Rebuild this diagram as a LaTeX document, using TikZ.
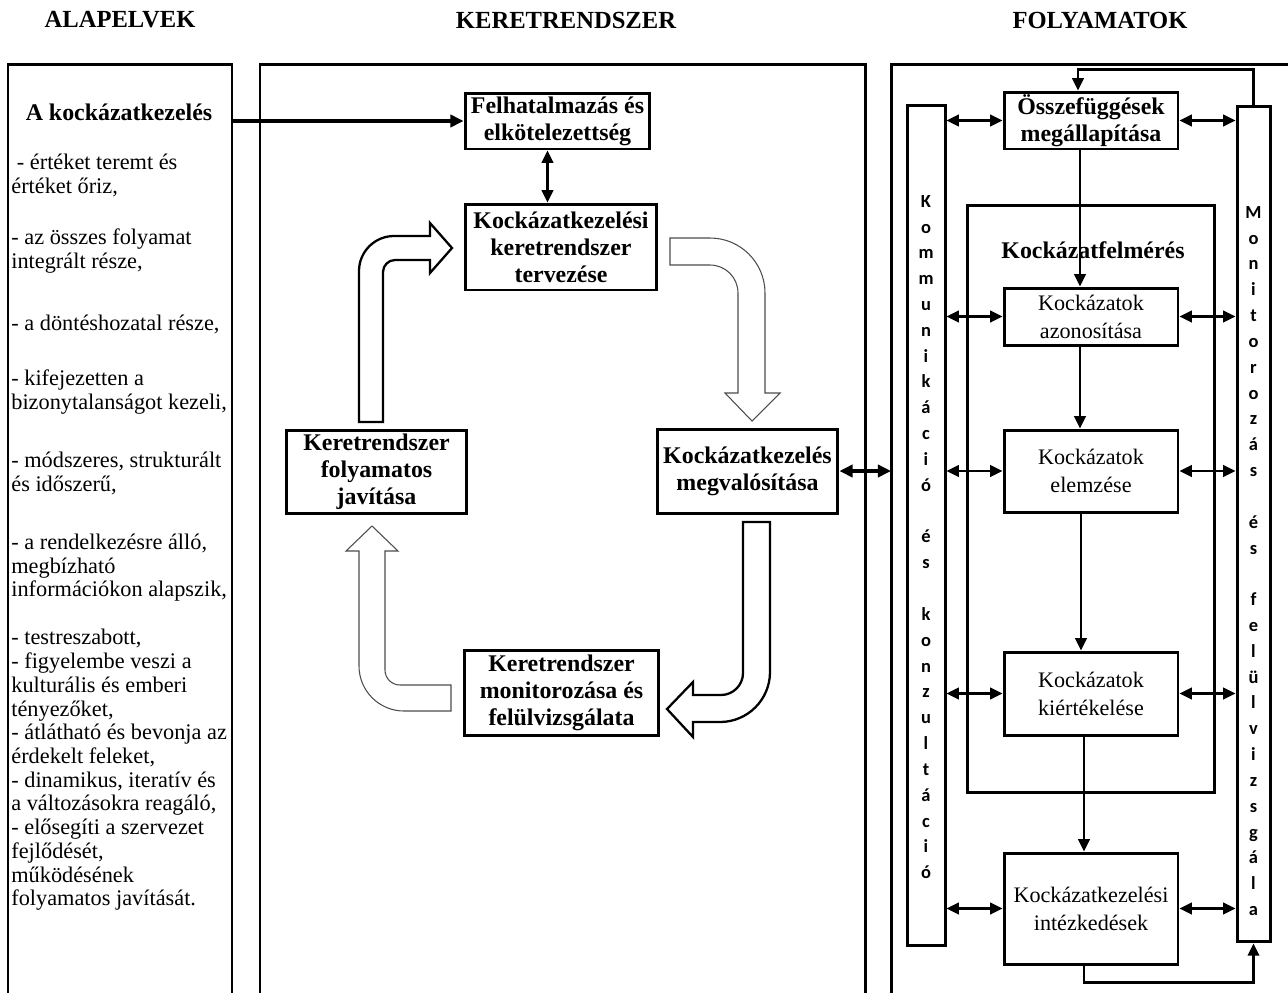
\documentclass[tikz,border=0pt]{standalone}
\usepackage{fontspec}
\setmainfont{Liberation Serif}
\newfontfamily\barfont{Carlito}
\usepackage{tikz}
\usetikzlibrary{arrows.meta,positioning,calc}
\newcommand{\hdfont}{\fontsize{14}{16}\selectfont\bfseries}
\newcommand{\boxfont}{\fontsize{13.6}{15.4}\selectfont\bfseries}
\newcommand{\procfont}{\fontsize{12.6}{16}\selectfont}
\newcommand{\elvfont}{\fontsize{12.7}{13.5}\selectfont}
\newcommand{\sidefont}{\barfont\fontsize{10.5}{14.7}\selectfont\bfseries}

\begin{document}
\begin{tikzpicture}[x=0.02cm, y=-0.02cm,
        frame/.style={line width=1.7pt},
        keret/.style={rectangle, draw, line width=1.7pt, align=center, inner sep=0pt, font=\boxfont},
        proc/.style={rectangle, draw, line width=1.7pt, align=center, inner sep=0pt, font=\procfont, minimum width=3.48cm},
        bar/.style={rectangle, draw, line width=1.7pt, inner sep=0pt},
        arr/.style={-{Triangle[length=7pt,width=6.5pt]}, line width=1.4pt},
        dbl/.style={{Triangle[length=7pt,width=6.5pt]}-{Triangle[length=7pt,width=6.5pt]}, line width=1.4pt},
        thickarr/.style={-{Triangle[length=7.5pt,width=7pt]}, line width=1.8pt},
        dblthick/.style={{Triangle[length=7.5pt,width=7pt]}-{Triangle[length=7.5pt,width=7pt]}, line width=1.8pt},
        bigarrow/.style={draw, line width=1.3pt, fill=white},
        thinarrow/.style={draw=black!70, line width=0.6pt, fill=white}
    ]
        \useasboundingbox (0,0) rectangle (1288,992);

        % headers
        \node[font=\hdfont] (h1) at (120,20) {ALAPELVEK};
        \node[font=\hdfont] (h2) at (566,20) {KERETRENDSZER};
        \node[font=\hdfont] (h3) at (1100,20) {FOLYAMATOK};

        % column frames
        \draw[frame] (8,1000) -- (8,64) -- (232,64) -- (232,1000);
        \draw[frame] (260,1000) -- (260,64) -- (865,64) -- (865,1000);
        \draw[frame] (891,1000) -- (891,64) -- (1300,64);
        \coordinate (alapR) at (232,121);
        \coordinate (folyL) at (891,471);

        % principles
        \node[font=\boxfont] (akock) at (119,112) {A kockázatkezelés};
        \node[anchor=north west, align=left, inner sep=0pt, font=\elvfont] (elvek) at (11,154) {%
            \ - értéket teremt és\\
            értéket őriz,\\[15.6pt]
            - az összes folyamat\\
            integrált része,\\[21.8pt]
            - a döntéshozatal része,\\[17.9pt]
            - kifejezetten a\\
            bizonytalanságot kezeli,\\[19.6pt]
            - módszeres, strukturált\\
            és időszerű,\\[19.6pt]
            - a rendelkezésre álló,\\
            megbízható\\
            információkon alapszik,\\[13.9pt]
            - testreszabott,\\
            - figyelembe veszi a\\
            kulturális és emberi\\
            tényezőket,\\
            - átlátható és bevonja az\\
            érdekelt feleket,\\
            - dinamikus, iteratív és\\
            a változásokra reagáló,\\
            - elősegíti a szervezet\\
            fejlődését,\\
            működésének\\
            folyamatos javítását.};

        % framework
        \node[keret, minimum width=3.7cm, minimum height=1.12cm] (felh) at (557.5,121) {Felhatalmazás és\\elkötelezettség};
        \node[keret, minimum width=3.84cm, minimum height=1.72cm] (terv) at (561,247) {Kockázatkezelési\\keretrendszer\\tervezése};
        \node[keret, minimum width=3.62cm, minimum height=1.68cm] (megv) at (747.5,471) {Kockázatkezelés\\megvalósítása};
        \node[keret, minimum width=3.9cm, minimum height=1.7cm] (monit) at (561.5,692.5) {Keretrendszer\\monitorozása és\\felülvizsgálata};
        \node[keret, minimum width=3.62cm, minimum height=1.66cm] (javit) at (376.5,471.5) {Keretrendszer\\folyamatos\\javítása};

        \draw[thickarr] (alapR) -- (felh.west);
        \draw[dbl] ($(felh.south)+(-10,0)$) -- ($(felh.south |- terv.north)+(-10,0)$);
        \draw[dblthick] (megv.east) -- (folyL);

        % cycle arrows
        \draw[bigarrow] (359,422) -- (359,271) .. controls (359,251.7) and (374.7,236) .. (394,236) -- (430,236) -- (430,223) -- (452,248) -- (430,273) -- (430,260) -- (395,260) .. controls (388.4,260) and (383,265.4) .. (383,272) -- (383,422) -- cycle;
        \draw[thinarrow] (670,238) -- (710,238) .. controls (740.4,238) and (765,262.6) .. (765,293) -- (765,393) -- (780,393) -- (752,421) -- (725,393) -- (738,393) -- (738,293) .. controls (738,277.5) and (725.5,265) .. (710,265) -- (670,265) -- cycle;
        \draw[bigarrow] (743,522) -- (770,522) -- (770,672) .. controls (770,699.6) and (747.6,722) .. (720,722) -- (693,722) -- (693,737) -- (667,709) -- (693,682) -- (693,695) -- (721,695) .. controls (733.1,695) and (743,685.1) .. (743,673) -- cycle;
        \draw[thinarrow] (451,711) -- (404,711) .. controls (379.2,711) and (359,690.8) .. (359,666) -- (359,551) -- (346,551) -- (372,526) -- (398,551) -- (385,551) -- (385,670) .. controls (385,678.3) and (391.7,685) .. (400,685) -- (451,685) -- cycle;

        % processes
        \node[bar, minimum width=0.76cm, minimum height=16.82cm] (kommbar) at (926,525.5) {};
        \node[bar, minimum width=0.66cm, minimum height=16.72cm] (monbar) at (1253.5,524) {};
        \node[font=\sidefont, align=center, inner sep=0pt] (kommtxt) at (926,537) {K\\o\\m\\m\\u\\n\\i\\k\\á\\c\\i\\ó\\\mbox{}\\é\\s\\\mbox{}\\k\\o\\n\\z\\u\\l\\t\\á\\c\\i\\ó};
        \node[font=\sidefont, align=center, inner sep=0pt] (montxt) at (1253.5,561) {M\\o\\n\\i\\t\\o\\r\\o\\z\\á\\s\\\mbox{}\\é\\s\\\mbox{}\\f\\e\\l\\ü\\l\\v\\i\\z\\s\\g\\á\\l\\a};

        \node[bar, minimum width=4.96cm, minimum height=11.76cm] (felmeres) at (1091,499) {};
        \node[font=\boxfont] (felmlbl) at (1093,250) {Kockázatfelmérés};

        \node[proc, font=\boxfont, minimum height=1.14cm] (oszef) at (1091,120.5) {Összefüggések\\megállapítása};
        \node[proc, minimum height=1.14cm] (azon) at (1091,316.5) {Kockázatok\\azonosítása};
        \node[proc, minimum height=1.64cm] (elemz) at (1091,471) {Kockázatok\\elemzése};
        \node[proc, minimum height=1.66cm] (kiert) at (1091,693.5) {Kockázatok\\kiértékelése};
        \node[proc, minimum height=2.22cm] (intez) at (1091,908.5) {Kockázatkezelési\\intézkedések};

        \draw[arr] ($(oszef.south)+(-11,0)$) -- ($(azon.north)+(-11,0)$);
        \draw[arr] ($(azon.south)+(-11,0)$) -- ($(elemz.north)+(-11,0)$);
        \draw[arr] ($(elemz.south)+(-10,0)$) -- ($(kiert.north)+(-10,0)$);
        \draw[arr] ($(kiert.south)+(-7,0)$) -- ($(intez.north)+(-7,0)$);

        \foreach \n in {oszef,azon,elemz,kiert,intez} {
            \draw[dbl] (kommbar.east |- \n) -- (\n.west);
            \draw[dbl] (\n.east) -- (monbar.west |- \n);
        }

        \draw[arr] (monbar.north) -- ++(0,-35) -| ($(oszef.north)+(-13,0)$);
        \draw[arr] ($(intez.south)+(-7,0)$) -- ++(0,17) -| (monbar.south);
    \end{tikzpicture}
\end{document}
